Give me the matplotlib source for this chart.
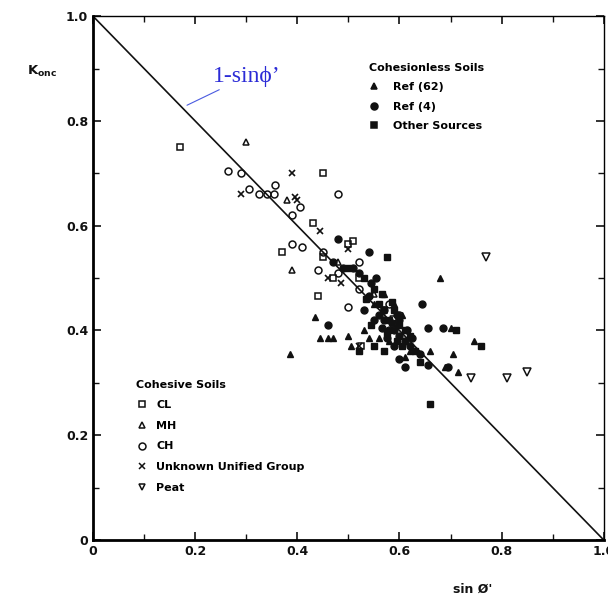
import matplotlib
matplotlib.use("Agg")
import matplotlib.pyplot as plt
from matplotlib.lines import Line2D

# cohesive soils (open markers)
cl_x = [0.17, 0.45, 0.43, 0.51, 0.37, 0.44, 0.525, 0.45, 0.50, 0.47, 0.52, 0.57]
cl_y = [0.75, 0.70, 0.605, 0.57, 0.55, 0.465, 0.37, 0.54, 0.565, 0.50, 0.50, 0.44]
mh_x = [0.30, 0.38, 0.39, 0.48, 0.55]
mh_y = [0.76, 0.65, 0.515, 0.53, 0.47]
ch_x = [0.265, 0.29, 0.305, 0.325, 0.34, 0.355, 0.356, 0.48, 0.405, 0.39, 0.39,
        0.41, 0.45, 0.50, 0.48, 0.52, 0.58, 0.60, 0.52, 0.44]
ch_y = [0.705, 0.70, 0.67, 0.66, 0.66, 0.66, 0.677, 0.66, 0.635, 0.62, 0.565,
        0.56, 0.55, 0.445, 0.51, 0.48, 0.45, 0.43, 0.53, 0.515]
unk_x = [0.29, 0.39, 0.395, 0.40, 0.445, 0.50, 0.485, 0.52, 0.46]
unk_y = [0.66, 0.70, 0.655, 0.65, 0.59, 0.555, 0.49, 0.37, 0.50]
peat_x = [0.77, 0.74, 0.81, 0.85, 0.59]
peat_y = [0.54, 0.31, 0.31, 0.32, 0.42]

# cohesionless soils (filled markers)
ref62_x = [0.385, 0.68, 0.435, 0.445, 0.46, 0.47, 0.50, 0.505, 0.54, 0.705, 0.745,
           0.715, 0.70, 0.61, 0.66, 0.69, 0.56, 0.58, 0.53, 0.55, 0.62, 0.57,
           0.59, 0.605]
ref62_y = [0.355, 0.50, 0.425, 0.385, 0.385, 0.385, 0.39, 0.37, 0.385, 0.355, 0.38,
           0.32, 0.405, 0.35, 0.36, 0.33, 0.385, 0.38, 0.40, 0.45, 0.36, 0.47,
           0.45, 0.43]
ref4_x = [0.48, 0.54, 0.645, 0.655, 0.685, 0.47, 0.49, 0.51, 0.52, 0.555, 0.54,
          0.57, 0.59, 0.61, 0.62, 0.64, 0.655, 0.695, 0.60, 0.61, 0.53, 0.56, 0.58,
          0.60, 0.55, 0.57, 0.59, 0.46, 0.565, 0.585, 0.60, 0.615, 0.575, 0.595,
          0.625, 0.545]
ref4_y = [0.575, 0.55, 0.45, 0.405, 0.405, 0.53, 0.52, 0.52, 0.51, 0.50, 0.465,
          0.42, 0.40, 0.38, 0.37, 0.355, 0.335, 0.33, 0.345, 0.33, 0.44, 0.43, 0.40,
          0.39, 0.42, 0.44, 0.37, 0.41, 0.405, 0.415, 0.42, 0.40, 0.385, 0.43,
          0.385, 0.49]
other_x = [0.575, 0.66, 0.71, 0.76, 0.50, 0.53, 0.55, 0.56, 0.58, 0.60, 0.62,
           0.63, 0.52, 0.55, 0.57, 0.64, 0.535, 0.565, 0.59, 0.61, 0.545, 0.575,
           0.595, 0.605, 0.585]
other_y = [0.54, 0.26, 0.40, 0.37, 0.52, 0.50, 0.48, 0.45, 0.42, 0.41, 0.39,
           0.36, 0.36, 0.37, 0.36, 0.34, 0.46, 0.47, 0.44, 0.40, 0.41, 0.395,
           0.38, 0.37, 0.455]

major_ticks = [0, 0.2, 0.4, 0.6, 0.8, 1.0]
minor_ticks = [0.1, 0.3, 0.5, 0.7, 0.9]
tick_labels = ["0", "0.2", "0.4", "0.6", "0.8", "1.0"]

ink = "#111111"
fig = plt.figure(figsize=(6.08, 6.00), dpi=100)
ax = fig.add_axes([0.153, 0.10, 0.840, 0.873])

ax.plot([0, 1], [1, 0], color=ink, lw=1.2, zorder=1)

ms = 5
ax.plot(cl_x, cl_y, "s", mfc="none", mec=ink, ms=ms - 0.5, mew=1.1, ls="none")
ax.plot(mh_x, mh_y, "^", mfc="none", mec=ink, ms=ms, mew=1.1, ls="none")
ax.plot(ch_x, ch_y, "o", mfc="none", mec=ink, ms=ms, mew=1.1, ls="none")
ax.plot(unk_x, unk_y, "x", color=ink, ms=ms - 1, mew=1.2, ls="none")
ax.plot(peat_x, peat_y, "v", mfc="none", mec=ink, ms=ms + 1, mew=1.1, ls="none")
ax.plot(ref62_x, ref62_y, "^", color=ink, ms=ms, ls="none")
ax.plot(ref4_x, ref4_y, "o", color=ink, ms=ms, ls="none")
ax.plot(other_x, other_y, "s", color=ink, ms=ms - 0.5, ls="none")

ax.set_xlim(0, 1)
ax.set_ylim(0, 1)
ax.set_xticks(major_ticks, tick_labels, fontweight="bold")
ax.set_yticks(major_ticks, tick_labels, fontweight="bold")
ax.set_xticks(minor_ticks, minor=True)
ax.set_yticks(minor_ticks, minor=True)
ax.tick_params(which="both", direction="in", top=True, right=True, colors=ink,
               labelsize=9)
ax.tick_params(which="major", length=6, width=1.2)
ax.tick_params(which="minor", length=4, width=1)
for side in ["left", "bottom"]:
    ax.spines[side].set_linewidth(2)
for side in ["top", "right"]:
    ax.spines[side].set_linewidth(1)

fig.text(0.045, 0.875, r"K$_{\mathregular{onc}}$", fontsize=9.5, fontweight="bold",
         color=ink)
fig.text(0.745, 0.012, "sin Ø'", fontsize=9, fontweight="bold", color=ink)

ax.annotate("1-sinϕ’", xy=(0.184, 0.83), xytext=(0.235, 0.885),
            fontsize=17, family="Liberation Serif", color="#2b2bd6",
            va="center", ha="left",
            arrowprops=dict(arrowstyle="-", color="#4a5be0", lw=0.8,
                            shrinkA=0, shrinkB=0))


def mk(marker, filled, size=ms):
    return Line2D([], [], marker=marker, ls="none", color=ink,
                  mfc=ink if filled else "none", mec=ink, ms=size, mew=1.1)


leg1 = ax.legend([mk("^", True), mk("o", True), mk("s", True)],
                 ["Ref (62)", "Ref (4)", "Other Sources"],
                 title="Cohesionless Soils", loc="upper left",
                 bbox_to_anchor=(0.52, 0.93), frameon=False,
                 prop=dict(size=8, weight="bold"),
                 title_fontproperties=dict(size=8, weight="bold"),
                 alignment="left", handletextpad=1.2, labelspacing=0.85,
                 handlelength=1.0)
ax.add_artist(leg1)
ax.legend([mk("s", False), mk("^", False), mk("o", False), mk("x", False, ms - 1),
           mk("v", False)],
          ["CL", "MH", "CH", "Unknown Unified Group", "Peat"],
          title="Cohesive Soils", loc="upper left",
          bbox_to_anchor=(0.065, 0.325), frameon=False,
          prop=dict(size=8, weight="bold"),
          title_fontproperties=dict(size=8, weight="bold"),
          alignment="left", handletextpad=0.8, labelspacing=0.95,
          handlelength=1.0)

fig.savefig("out.png", dpi=100, facecolor="white")
